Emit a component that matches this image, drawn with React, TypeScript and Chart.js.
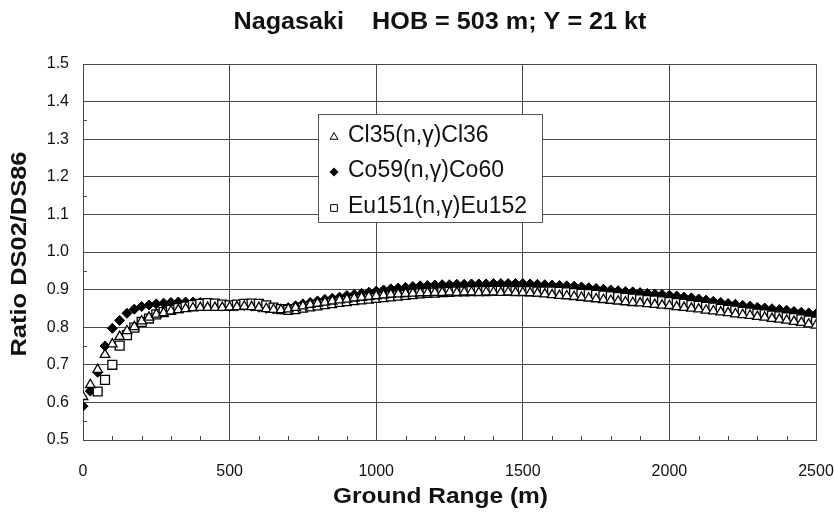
import React, { useEffect, useRef } from "react";
import { Chart, registerables } from "chart.js";

Chart.register(...registerables);

const TITLE = "Nagasaki    HOB = 503 m; Y = 21 kt";
const X_TITLE = "Ground Range (m)";
const Y_TITLE = "Ratio DS02/DS86";

const RANGE_M = [
  0, 25, 50, 75, 100, 125, 150, 175, 200, 225, 250, 275, 300, 325, 350, 375, 400, 425, 450, 475,
  500, 525, 550, 575, 600, 625, 650, 675, 700, 725, 750, 775, 800, 825, 850, 875, 900, 925, 950, 975,
  1000, 1025, 1050, 1075, 1100, 1125, 1150, 1175, 1200, 1225, 1250, 1275, 1300, 1325, 1350, 1375, 1400, 1425, 1450, 1475,
  1500, 1525, 1550, 1575, 1600, 1625, 1650, 1675, 1700, 1725, 1750, 1775, 1800, 1825, 1850, 1875, 1900, 1925, 1950, 1975,
  2000, 2025, 2050, 2075, 2100, 2125, 2150, 2175, 2200, 2225, 2250, 2275, 2300, 2325, 2350, 2375, 2400, 2425, 2450, 2475,
  2500,
];

const CL36 = [
  0.615, 0.647, 0.687, 0.727, 0.755, 0.775, 0.790, 0.801, 0.816, 0.826, 0.834, 0.838, 0.843, 0.846, 0.849, 0.851, 0.852, 0.852, 0.852, 0.852,
  0.853, 0.854, 0.855, 0.854, 0.852, 0.849, 0.847, 0.846, 0.848, 0.852, 0.856, 0.860, 0.863, 0.866, 0.869, 0.872, 0.874, 0.877, 0.879, 0.881,
  0.883, 0.885, 0.887, 0.888, 0.889, 0.890, 0.891, 0.891, 0.892, 0.892, 0.893, 0.892, 0.893, 0.893, 0.892, 0.893, 0.893, 0.892, 0.893, 0.892,
  0.892, 0.891, 0.890, 0.888, 0.886, 0.884, 0.883, 0.881, 0.879, 0.877, 0.875, 0.873, 0.871, 0.869, 0.867, 0.865, 0.864, 0.862, 0.860, 0.858,
  0.857, 0.854, 0.852, 0.850, 0.848, 0.845, 0.843, 0.840, 0.838, 0.835, 0.833, 0.831, 0.828, 0.826, 0.823, 0.821, 0.818, 0.815, 0.812, 0.808,
  0.805,
];

const CO60 = [
  0.590, 0.630, 0.680, 0.750, 0.797, 0.818, 0.837, 0.848, 0.855, 0.859, 0.862, 0.864, 0.866, 0.867, 0.867, 0.867, 0.866, 0.862, 0.858, 0.856,
  0.855, 0.856, 0.857, 0.856, 0.853, 0.850, 0.848, 0.848, 0.852, 0.857, 0.862, 0.866, 0.870, 0.874, 0.877, 0.880, 0.884, 0.887, 0.890, 0.893,
  0.896, 0.899, 0.902, 0.904, 0.906, 0.908, 0.910, 0.911, 0.912, 0.913, 0.913, 0.914, 0.914, 0.915, 0.915, 0.915, 0.916, 0.916, 0.916, 0.916,
  0.916, 0.915, 0.914, 0.913, 0.912, 0.911, 0.910, 0.909, 0.907, 0.905, 0.903, 0.901, 0.899, 0.897, 0.895, 0.894, 0.892, 0.890, 0.888, 0.887,
  0.885, 0.883, 0.880, 0.878, 0.875, 0.872, 0.869, 0.866, 0.863, 0.861, 0.858, 0.856, 0.853, 0.851, 0.849, 0.847, 0.845, 0.842, 0.840, 0.838,
  0.835,
];

const EU152 = [
  null, null, 0.629, 0.660, 0.700, 0.751, 0.779, 0.799, 0.814, 0.823, 0.834, 0.840, 0.846, 0.851, 0.855, 0.859, 0.862, 0.864, 0.863, 0.860,
  0.858, 0.860, 0.862, 0.863, 0.862, 0.858, 0.852, 0.848, 0.846, 0.848, 0.852, 0.855, 0.858, 0.861, 0.864, 0.867, 0.869, 0.872, 0.874, 0.876,
  0.878, 0.880, 0.882, 0.884, 0.886, 0.888, 0.890, 0.891, 0.892, 0.893, 0.894, 0.895, 0.895, 0.896, 0.896, 0.896, 0.897, 0.897, 0.897, 0.896,
  0.896, 0.896, 0.895, 0.895, 0.895, 0.894, 0.893, 0.891, 0.889, 0.888, 0.886, 0.884, 0.882, 0.880, 0.878, 0.876, 0.874, 0.872, 0.871, 0.869,
  0.867, 0.864, 0.862, 0.859, 0.857, 0.854, 0.852, 0.849, 0.846, 0.844, 0.841, 0.839, 0.836, 0.834, 0.831, 0.829, 0.826, 0.824, 0.821, 0.818,
  0.815,
];

const X_MINOR = [100, 200, 300, 400, 600, 700, 800, 900, 1100, 1200, 1300, 1400, 1600, 1700, 1800, 1900, 2100, 2200, 2300, 2400];
const Y_MINOR = [0.55, 0.75, 0.95, 1.15, 1.35];

const LEGEND_LABELS = ["Cl35(n,\u03b3)Cl36", "Co59(n,\u03b3)Co60", "Eu151(n,\u03b3)Eu152"];
const LEGEND_SHAPES = ["triangle", "diamond", "square"];

const FONT = "'Liberation Sans', Arial, Helvetica, sans-serif";
const GRID = "#4a4a4a";

function toPoints(vals: (number | null)[]) {
  const out: { x: number; y: number }[] = [];
  vals.forEach((v, i) => {
    if (v !== null && v !== undefined) out.push({ x: RANGE_M[i], y: v });
  });
  return out;
}

function drawShape(ctx: CanvasRenderingContext2D, shape: string, x: number, y: number, r: number) {
  ctx.beginPath();
  if (shape === "triangle") {
    ctx.moveTo(x, y - r);
    ctx.lineTo(x + r * 0.866, y + r * 0.5);
    ctx.lineTo(x - r * 0.866, y + r * 0.5);
    ctx.closePath();
    ctx.fillStyle = "#fff";
    ctx.fill();
    ctx.strokeStyle = "#000";
    ctx.lineWidth = 1;
    ctx.stroke();
  } else if (shape === "diamond") {
    ctx.moveTo(x, y - r);
    ctx.lineTo(x + r, y);
    ctx.lineTo(x, y + r);
    ctx.lineTo(x - r, y);
    ctx.closePath();
    ctx.fillStyle = "#000";
    ctx.fill();
  } else {
    const s = r * 0.75;
    ctx.rect(x - s, y - s, 2 * s, 2 * s);
    ctx.fillStyle = "#fff";
    ctx.fill();
    ctx.strokeStyle = "#000";
    ctx.lineWidth = 1;
    ctx.stroke();
  }
}

function fitText(ctx: CanvasRenderingContext2D, text: string, x: number, y: number, width: number, rotate: boolean) {
  const w = ctx.measureText(text).width;
  ctx.save();
  ctx.translate(x, y);
  if (rotate) ctx.rotate(-Math.PI / 2);
  ctx.scale(width / w, 1);
  ctx.fillText(text, 0, 0);
  ctx.restore();
}

const overlayPlugin = {
  id: "overlay",
  afterDraw(chart: any) {
    const ctx: CanvasRenderingContext2D = chart.ctx;
    const area = chart.chartArea;
    const xs = chart.scales.x;
    const ys = chart.scales.y;
    ctx.save();

    // minor ticks
    ctx.strokeStyle = GRID;
    ctx.lineWidth = 1;
    X_MINOR.forEach((v) => {
      const px = Math.round(xs.getPixelForValue(v)) + 0.5;
      ctx.beginPath();
      ctx.moveTo(px, area.bottom);
      ctx.lineTo(px, area.bottom - 4);
      ctx.stroke();
    });
    Y_MINOR.forEach((v) => {
      const py = Math.round(ys.getPixelForValue(v)) + 0.5;
      ctx.beginPath();
      ctx.moveTo(area.left, py);
      ctx.lineTo(area.left + 4, py);
      ctx.stroke();
    });

    // titles
    ctx.fillStyle = "#111";
    ctx.textAlign = "center";
    ctx.textBaseline = "middle";
    ctx.font = `bold 23px ${FONT}`;
    fitText(ctx, TITLE, 440, 23, 413, false);
    ctx.font = `bold 22px ${FONT}`;
    fitText(ctx, X_TITLE, (area.left + area.right) / 2 - 9, 497, 215, false);
    fitText(ctx, Y_TITLE, 20, (area.top + area.bottom) / 2 + 2, 205, true);

    // legend
    const bx = 318, by = 114, bw = 224, bh = 108;
    ctx.fillStyle = "#fff";
    ctx.fillRect(bx, by, bw, bh);
    ctx.strokeStyle = "#555";
    ctx.lineWidth = 1;
    ctx.strokeRect(bx + 0.5, by + 0.5, bw, bh);
    const rows = [136, 171, 207];
    LEGEND_LABELS.forEach((lab, i) => {
      drawShape(ctx, LEGEND_SHAPES[i], 334, rows[i] + 1, 4.5);
      ctx.fillStyle = "#111";
      ctx.textAlign = "left";
      ctx.textBaseline = "middle";
      ctx.font = `23px ${FONT}`;
      ctx.fillText(lab, 348, rows[i]);
    });
    ctx.restore();
  },
};

export default function App() {
  const ref = useRef<HTMLCanvasElement | null>(null);

  useEffect(() => {
    if (!ref.current) return;
    const chart = new Chart(ref.current, {
      type: "scatter",
      data: {
        datasets: [
          {
            label: LEGEND_LABELS[0],
            data: toPoints(CL36),
            order: 0,
            pointStyle: "triangle",
            pointRadius: 5.5,
            pointBackgroundColor: "#fff",
            pointBorderColor: "#000",
            pointBorderWidth: 1.3,
            showLine: false,
          },
          {
            label: LEGEND_LABELS[1],
            data: toPoints(CO60),
            order: 2,
            pointStyle: "rectRot",
            pointRadius: 5,
            pointBackgroundColor: "#000",
            pointBorderColor: "#000",
            pointBorderWidth: 1,
            showLine: false,
          },
          {
            label: LEGEND_LABELS[2],
            data: toPoints(EU152),
            order: 1,
            pointStyle: "rect",
            pointRadius: 6.3,
            pointBackgroundColor: "#fff",
            pointBorderColor: "#000",
            pointBorderWidth: 1.3,
            showLine: false,
          },
        ],
      },
      options: {
        animation: false,
        responsive: false,
        maintainAspectRatio: false,
        layout: { padding: { top: 64, right: 18, left: 0, bottom: 0 } },
        plugins: {
          legend: { display: false },
          title: { display: false },
          tooltip: { enabled: false },
        },
        scales: {
          x: {
            type: "linear",
            min: 0,
            max: 2500,
            ticks: {
              stepSize: 500,
              color: "#111",
              font: { family: FONT, size: 16 },
              padding: 22,
              maxRotation: 0,
              callback: (v: any) => String(v),
            },
            grid: { color: GRID, lineWidth: 1, drawTicks: false },
            border: { color: GRID, width: 1 },
            afterFit: (s: any) => {
              s.height = 72;
              s.paddingLeft = 0;
              s.paddingRight = 0;
            },
          },
          y: {
            type: "linear",
            min: 0.5,
            max: 1.5,
            ticks: {
              stepSize: 0.1,
              color: "#111",
              font: { family: FONT, size: 16 },
              padding: 14,
              callback: (v: any) => Number(v).toFixed(1),
            },
            grid: { color: GRID, lineWidth: 1, drawTicks: false },
            border: { color: GRID, width: 1 },
            afterFit: (s: any) => {
              s.width = 83;
              s.paddingTop = 0;
              s.paddingBottom = 0;
            },
          },
        },
      },
      plugins: [overlayPlugin],
    });
    return () => chart.destroy();
  }, []);

  return (
    <div style={{ position: "absolute", left: 0, top: 0, width: 834, height: 512, background: "#fff" }}>
      <canvas ref={ref} width={834} height={512} style={{ width: 834, height: 512, display: "block" }} />
    </div>
  );
}
